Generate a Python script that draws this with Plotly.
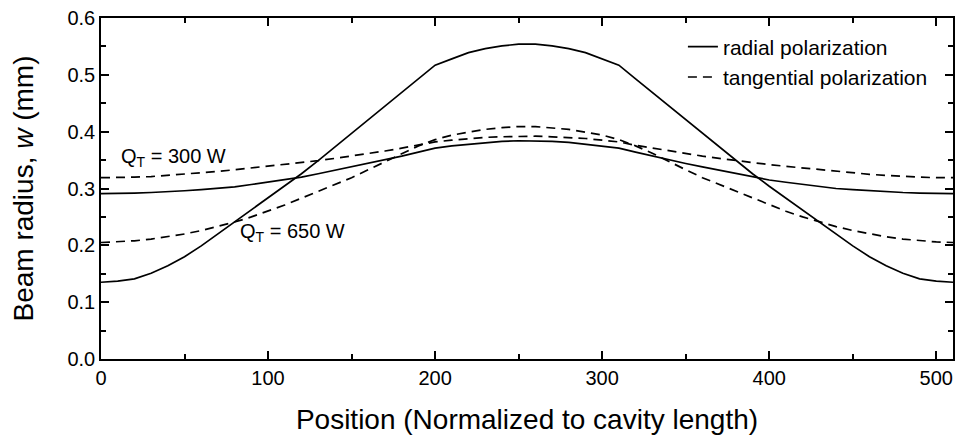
import plotly.graph_objects as go

# Position grid (normalized to cavity length)
position = [0, 10, 20, 30, 40, 50, 60, 70, 80, 90, 100, 110, 120, 130, 140, 150, 160, 170, 180, 190, 200,
            210, 220, 230, 240, 250, 260, 270, 280, 290, 300, 310, 320, 330, 340, 350, 360, 370, 380, 390,
            400, 410, 420, 430, 440, 450, 460, 470, 480, 490, 500, 510]

# Radial polarization, Q_T = 650 W
radial_650 = [0.135, 0.137, 0.141, 0.151, 0.164, 0.180, 0.199, 0.220, 0.241, 0.262, 0.283, 0.304, 0.326,
              0.349, 0.373, 0.397, 0.421, 0.445, 0.469, 0.493, 0.517, 0.528, 0.539, 0.546, 0.551, 0.554,
              0.554, 0.551, 0.546, 0.539, 0.528, 0.517, 0.493, 0.469, 0.445, 0.421, 0.397, 0.373, 0.349,
              0.326, 0.304, 0.283, 0.262, 0.241, 0.220, 0.199, 0.180, 0.164, 0.151, 0.141, 0.137, 0.135]

# Tangential polarization, Q_T = 650 W
tangential_650 = [0.205, 0.206, 0.208, 0.211, 0.215, 0.220, 0.226, 0.233, 0.241, 0.250, 0.260, 0.271, 0.283,
                  0.295, 0.307, 0.319, 0.333, 0.347, 0.362, 0.375, 0.386, 0.394, 0.399, 0.404, 0.407, 0.409,
                  0.409, 0.407, 0.404, 0.399, 0.394, 0.386, 0.375, 0.362, 0.347, 0.333, 0.319, 0.307, 0.295,
                  0.283, 0.271, 0.260, 0.250, 0.241, 0.233, 0.226, 0.220, 0.215, 0.211, 0.208, 0.206, 0.205]

# Radial polarization, Q_T = 300 W
radial_300 = [0.291, 0.291, 0.292, 0.293, 0.294, 0.296, 0.298, 0.300, 0.303, 0.307, 0.311, 0.315, 0.320,
              0.326, 0.332, 0.338, 0.344, 0.350, 0.357, 0.364, 0.371, 0.375, 0.378, 0.381, 0.383, 0.384,
              0.384, 0.383, 0.381, 0.378, 0.375, 0.371, 0.364, 0.357, 0.350, 0.344, 0.338, 0.332, 0.326,
              0.320, 0.315, 0.311, 0.307, 0.303, 0.300, 0.298, 0.296, 0.294, 0.293, 0.292, 0.291, 0.291]

# Tangential polarization, Q_T = 300 W
tangential_300 = [0.319, 0.319, 0.320, 0.321, 0.323, 0.325, 0.327, 0.330, 0.333, 0.336, 0.339, 0.342, 0.345,
                  0.349, 0.353, 0.357, 0.361, 0.366, 0.371, 0.376, 0.382, 0.385, 0.388, 0.390, 0.391, 0.392,
                  0.392, 0.391, 0.390, 0.388, 0.385, 0.382, 0.376, 0.371, 0.366, 0.361, 0.357, 0.353, 0.349,
                  0.345, 0.342, 0.339, 0.336, 0.333, 0.330, 0.327, 0.325, 0.323, 0.321, 0.320, 0.319, 0.319]

FONT = "Liberation Sans, Arial, sans-serif"
DASH = "9px,6px"
LW = 1.7

fig = go.Figure()
fig.add_trace(go.Scatter(x=position, y=radial_650, mode="lines", name="radial polarization",
                         legendgroup="radial", showlegend=True,
                         line=dict(color="black", width=LW)))
fig.add_trace(go.Scatter(x=position, y=tangential_650, mode="lines", name="tangential polarization",
                         legendgroup="tangential", showlegend=True,
                         line=dict(color="black", width=LW, dash=DASH)))
fig.add_trace(go.Scatter(x=position, y=radial_300, mode="lines", name="radial polarization",
                         legendgroup="radial", showlegend=False,
                         line=dict(color="black", width=LW)))
fig.add_trace(go.Scatter(x=position, y=tangential_300, mode="lines", name="tangential polarization",
                         legendgroup="tangential", showlegend=False,
                         line=dict(color="black", width=LW, dash=DASH)))

fig.add_annotation(x=11, y=0.355, xref="x", yref="y", text="Q<sub>T</sub> = 300 W", showarrow=False,
                   xanchor="left", yanchor="middle", font=dict(family=FONT, size=20, color="black"))
fig.add_annotation(x=82, y=0.223, xref="x", yref="y", text="Q<sub>T</sub> = 650 W", showarrow=False,
                   xanchor="left", yanchor="middle", font=dict(family=FONT, size=20, color="black"))

axis_common = dict(showline=True, linecolor="black", linewidth=1.5, mirror="ticks", ticks="inside",
                   tickcolor="black", tickwidth=1.5, ticklen=8, showgrid=False, zeroline=False,
                   tickfont=dict(family=FONT, size=20, color="black"))

fig.update_xaxes(range=[0, 510], dtick=100, tick0=0,
                 minor=dict(dtick=50, ticks="inside", ticklen=5, tickcolor="black", tickwidth=1.5),
                 title=dict(text="Position (Normalized to cavity length)", standoff=22,
                            font=dict(family=FONT, size=28, color="black")),
                 **axis_common)
fig.update_yaxes(range=[0, 0.6], dtick=0.1, tick0=0, tickformat=".1f",
                 minor=dict(dtick=0.05, ticks="inside", ticklen=5, tickcolor="black", tickwidth=1.5),
                 title=dict(text="Beam radius, <i>w</i> (mm)", standoff=26,
                            font=dict(family=FONT, size=28, color="black")),
                 **axis_common)

fig.update_layout(
    width=959, height=438,
    margin=dict(l=101, r=4, t=18, b=79),
    plot_bgcolor="white", paper_bgcolor="white",
    font=dict(family=FONT, size=20, color="black"),
    legend=dict(x=0.683, y=0.975, xanchor="left", yanchor="top", bgcolor="rgba(0,0,0,0)",
                font=dict(family=FONT, size=21, color="black"), tracegroupgap=0),
)

fig.write_html("out.html")
